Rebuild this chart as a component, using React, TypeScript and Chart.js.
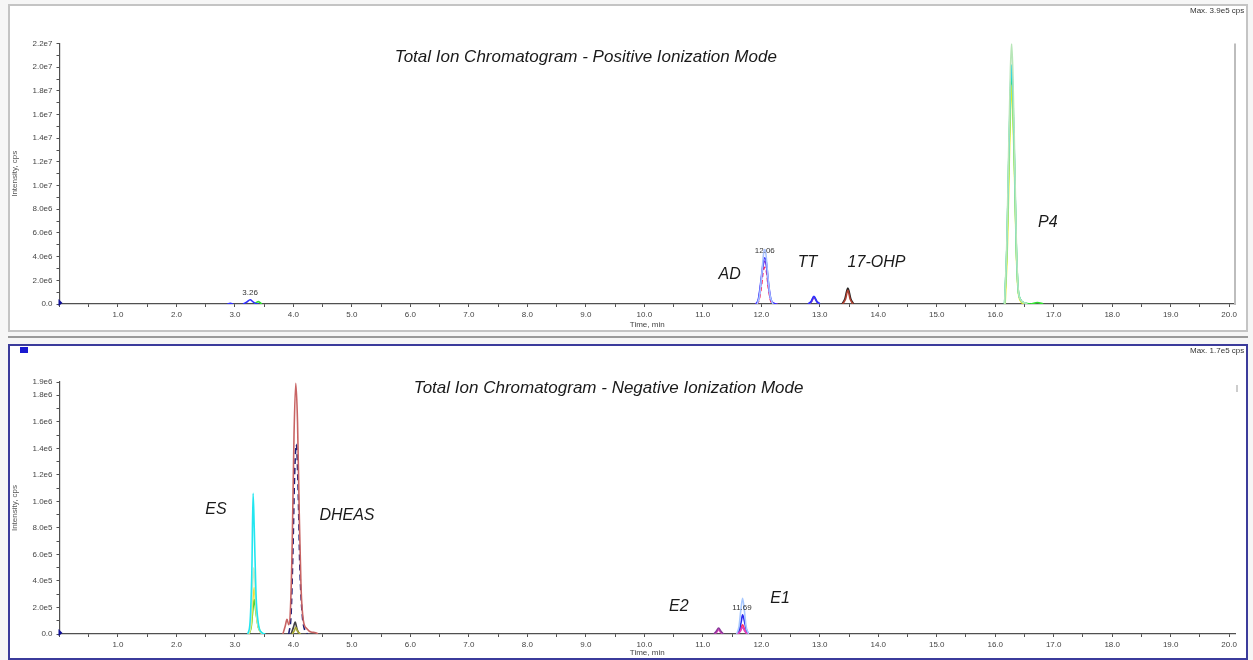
import React, { useEffect, useRef } from "react";
import { Chart, registerables } from "chart.js";
Chart.register(...registerables);

type Pt = [number, number | null];

// ---------- Positive ionization mode traces (time, min ; intensity, cps) ----------
const posBlue: Pt[] = [
  [2.87, 0], [2.92, 5e4], [2.97, 0], [3.05, null],
  [3.14, 0], [3.2, 1.6e5], [3.26, 3.6e5], [3.31, 1.8e5], [3.36, 3e4], [3.4, 0], [8, null],
  [11.91, 0], [11.95, 4e5], [11.99, 1.8e6], [12.03, 3.4e6], [12.06, 3.9e6], [12.09, 3.4e6], [12.12, 1.9e6], [12.16, 5e5], [12.2, 1e5], [12.26, 0], [12.5, null],
  [12.8, 0], [12.85, 2.2e5], [12.9, 6.5e5], [12.95, 2.2e5], [13.0, 0],
];
const posLightBlue: Pt[] = [
  [11.93, 0], [11.97, 7e5], [12.01, 2.6e6], [12.04, 4.3e6], [12.06, 4.6e6], [12.08, 4.2e6], [12.11, 2.5e6], [12.15, 7e5], [12.2, 0],
];
const posPurple: Pt[] = [
  [11.9, 0], [11.95, 3e5], [11.99, 1.6e6], [12.03, 3.2e6], [12.06, 3.6e6], [12.09, 3.1e6], [12.12, 1.7e6], [12.16, 4e5], [12.22, 5e4], [12.28, 0], [12.6, null],
  [12.81, 0], [12.86, 2e5], [12.9, 5.5e5], [12.95, 2e5], [13.0, 0],
];
const posRed: Pt[] = [
  [11.92, 0], [11.96, 3e5], [12.0, 1.4e6], [12.03, 2.7e6], [12.06, 3.1e6], [12.09, 2.7e6], [12.12, 1.4e6], [12.16, 3e5], [12.2, 0],
];
const posTeal: Pt[] = [
  [12.81, 0], [12.86, 2.2e5], [12.9, 6e5], [12.95, 2.2e5], [13.0, 0],
];
const posBlack: Pt[] = [
  [13.38, 0], [13.43, 4.5e5], [13.48, 1.35e6], [13.53, 4.5e5], [13.58, 0],
];
const posBrown: Pt[] = [
  [13.39, 0], [13.44, 4e5], [13.48, 1.15e6], [13.52, 4e5], [13.57, 0],
];
const posPaleGreen: Pt[] = [
  [16.16, 0], [16.2, 5.5e6], [16.23, 1.3e7], [16.26, 1.98e7], [16.28, 2.2e7], [16.3, 1.98e7], [16.33, 1.3e7], [16.36, 5.5e6], [16.39, 1.5e6], [16.43, 4e5], [16.5, 1e5], [16.55, 0],
];
const posCyan: Pt[] = [
  [16.16, 0], [16.2, 5.0e6], [16.23, 1.2e7], [16.26, 1.82e7], [16.28, 2.02e7], [16.3, 1.82e7], [16.33, 1.2e7], [16.36, 5.0e6], [16.39, 1.4e6], [16.43, 4e5], [16.5, 1e5], [16.55, 0],
];
const posYellow: Pt[] = [
  [16.17, 0], [16.21, 5.2e6], [16.24, 1.2e7], [16.26, 1.62e7], [16.28, 1.85e7], [16.3, 1.65e7], [16.33, 1.1e7], [16.36, 4.5e6], [16.39, 1.2e6], [16.44, 2e5], [16.5, 0],
];
const posGreen: Pt[] = [
  [3.33, 0], [3.4, 2e5], [3.46, 0], [10, null],
  [16.16, 0], [16.2, 4.9e6], [16.23, 1.17e7], [16.26, 1.76e7], [16.28, 1.95e7], [16.3, 1.76e7], [16.33, 1.17e7], [16.36, 4.9e6], [16.39, 1.4e6], [16.43, 4e5], [16.5, 1e5], [16.6, 0], [16.72, 1.3e5], [16.82, 0],
];

// ---------- Negative ionization mode traces ----------
const negCyan: Pt[] = [
  [3.22, 0], [3.26, 1e5], [3.29, 5e5], [3.31, 1.06e6], [3.33, 8e5], [3.36, 3e5], [3.4, 8e4], [3.46, 1e4], [3.52, 0],
];
const negPale: Pt[] = [
  [3.23, 0], [3.27, 8e4], [3.3, 3.5e5], [3.32, 5e5], [3.34, 4e5], [3.37, 1.5e5], [3.42, 3e4], [3.48, 0],
];
const negYellow: Pt[] = [
  [3.24, 0], [3.28, 8e4], [3.31, 2.8e5], [3.33, 3.5e5], [3.35, 2.5e5], [3.38, 1e5], [3.43, 2e4], [3.48, 0],
];
const negGreen: Pt[] = [
  [3.24, 0], [3.28, 6e4], [3.31, 2e5], [3.33, 2.6e5], [3.36, 1.6e5], [3.4, 5e4], [3.45, 1e4], [3.5, 0],
];
const negRose: Pt[] = [
  [3.82, 0], [3.86, 6e4], [3.89, 1.1e5], [3.92, 7e4], [3.95, 2e5], [3.98, 7e5], [4.01, 1.5e6], [4.04, 1.89e6], [4.07, 1.6e6], [4.1, 9e5], [4.13, 3.5e5], [4.17, 1e5], [4.23, 4e4], [4.3, 1.5e4], [4.38, 1e4], [4.42, 0],
];
const negNavy: Pt[] = [
  [3.92, 0], [3.96, 1.5e5], [3.99, 6e5], [4.02, 1.2e6], [4.05, 1.43e6], [4.08, 1.1e6], [4.11, 5e5], [4.15, 1.5e5], [4.2, 2e4], [4.24, 0],
];
const negBlack: Pt[] = [
  [3.96, 0], [4.0, 5e4], [4.03, 9e4], [4.06, 4e4], [4.1, 0],
];
const negOlive: Pt[] = [
  [3.98, 0], [4.02, 3e4], [4.04, 5e4], [4.07, 2e4], [4.12, 0],
];
const negPurple: Pt[] = [
  [11.19, 0], [11.23, 2e4], [11.27, 4.5e4], [11.31, 2e4], [11.35, 0],
];
const negMagenta: Pt[] = [
  [11.2, 0], [11.24, 1.5e4], [11.27, 3.5e4], [11.3, 1.5e4], [11.34, 0], [11.5, null],
  [11.6, 0], [11.64, 2e4], [11.68, 5e4], [11.72, 2e4], [11.76, 0],
];
const negLightBlue: Pt[] = [
  [11.58, 0], [11.62, 6e4], [11.65, 1.8e5], [11.68, 2.7e5], [11.71, 1.8e5], [11.74, 6e4], [11.78, 0],
];
const negBlue: Pt[] = [
  [11.59, 0], [11.63, 4e4], [11.66, 1e5], [11.68, 1.45e5], [11.71, 1e5], [11.74, 4e4], [11.78, 0],
];
const negRed: Pt[] = [
  [11.6, 0], [11.64, 2.5e4], [11.68, 7e4], [11.72, 2.5e4], [11.76, 0],
];

// ---------- Texts ----------
const posTitle = "Total Ion Chromatogram - Positive Ionization Mode";
const negTitle = "Total Ion Chromatogram - Negative Ionization Mode";
const posMax = "Max. 3.9e5 cps";
const negMax = "Max. 1.7e5 cps";
const posYMax = 2.2e7;
const negYMax = 1.9e6;

type Lbl = { text: string; x: number; y: number; size: number };
const posLabels: Lbl[] = [
  { text: posTitle, x: 9.0, y: 2.08e7, size: 17 },
  { text: "AD", x: 11.46, y: 2.45e6, size: 16 },
  { text: "TT", x: 12.79, y: 3.54e6, size: 16 },
  { text: "17-OHP", x: 13.97, y: 3.54e6, size: 16 },
  { text: "P4", x: 16.9, y: 6.92e6, size: 16 },
  { text: "12.06", x: 12.06, y: 4.47e6, size: 8 },
  { text: "3.26", x: 3.26, y: 9.5e5, size: 8 },
];
const negLabels: Lbl[] = [
  { text: negTitle, x: 9.39, y: 1.855e6, size: 17 },
  { text: "ES", x: 2.675, y: 9.35e5, size: 16 },
  { text: "DHEAS", x: 4.915, y: 8.9e5, size: 16 },
  { text: "E2", x: 10.59, y: 2.04e5, size: 16 },
  { text: "E1", x: 12.32, y: 2.64e5, size: 16 },
  { text: "11.69", x: 11.67, y: 1.96e5, size: 8 },
];

const FONT = "'Liberation Sans', Arial, sans-serif";

type Tr = { data: Pt[]; color: string; width?: number; dash?: number[] };

const posTraces: Tr[] = [
  { data: posLightBlue, color: "#a9c2ff" },
  { data: posBlue, color: "#2f2fff" },
  { data: posPurple, color: "#8a32d8" },
  { data: posRed, color: "#ff2050", dash: [4, 3] },
  { data: posTeal, color: "#20a088" },
  { data: posBrown, color: "#b04030" },
  { data: posBlack, color: "#222222" },
  { data: posPaleGreen, color: "#b8e6b8" },
  { data: posCyan, color: "#2ad4e8" },
  { data: posYellow, color: "#e4f020" },
  { data: posGreen, color: "#2fe02f" },
];
const negTraces: Tr[] = [
  { data: negCyan, color: "#22e6f0" },
  { data: negPale, color: "#d4e8c4" },
  { data: negYellow, color: "#f0e030" },
  { data: negGreen, color: "#2cd02c" },
  { data: negRose, color: "#c86464" },
  { data: negNavy, color: "#1e1e78", dash: [6, 4] },
  { data: negOlive, color: "#a8a830" },
  { data: negBlack, color: "#404040" },
  { data: negPurple, color: "#8a3c9a" },
  { data: negMagenta, color: "#e040c0" },
  { data: negLightBlue, color: "#a8c8ff" },
  { data: negBlue, color: "#2828f0" },
  { data: negRed, color: "#ff3060" },
];

const fmtExp = (v: number) => (Math.abs(v) < 1 ? "0.0" : v.toExponential(1).replace("+", ""));

function makePlugin(labels: Lbl[], maxText: string, rightLine: boolean) {
  return {
    id: "annot",
    afterDatasetsDraw(chart: any) {
      const { ctx, chartArea, scales } = chart;
      const xs = scales.x;
      const ys = scales.y;
      ctx.save();
      ctx.strokeStyle = "#bdbdbd";
      if (rightLine) {
        ctx.lineWidth = 2;
        ctx.beginPath();
        ctx.moveTo(chartArea.right, chartArea.top);
        ctx.lineTo(chartArea.right, chartArea.bottom + 1);
        ctx.stroke();
      } else {
        ctx.lineWidth = 1.5;
        ctx.beginPath();
        ctx.moveTo(chartArea.right + 2, chartArea.top + 3);
        ctx.lineTo(chartArea.right + 2, chartArea.top + 10);
        ctx.stroke();
      }
      ctx.textAlign = "center";
      ctx.textBaseline = "middle";
      for (const l of labels) {
        const big = l.size > 10;
        ctx.font = big ? `italic ${l.size}px ${FONT}` : `${l.size}px ${FONT}`;
        ctx.fillStyle = big ? "#1a1a1a" : "#333333";
        ctx.fillText(l.text, xs.getPixelForValue(l.x), ys.getPixelForValue(l.y));
      }
      // Max text
      ctx.font = `8px ${FONT}`;
      ctx.fillStyle = "#333333";
      ctx.textAlign = "left";
      ctx.fillText(maxText, 1180, 5);
      // origin marker
      const y0 = ys.getPixelForValue(0);
      const x0 = chartArea.left;
      ctx.fillStyle = "#10109a";
      ctx.beginPath();
      ctx.moveTo(x0 - 1, y0 - 5);
      ctx.lineTo(x0 + 3, y0 - 1);
      ctx.lineTo(x0 - 1, y0 + 2);
      ctx.closePath();
      ctx.fill();
      ctx.restore();
    },
  };
}

function makeConfig(
  traces: Tr[],
  yMax: number,
  yStep: number,
  labels: Lbl[],
  maxText: string,
  padTop: number,
  xAxisH: number,
  xTitlePad: number,
  rightLine: boolean
): any {
  return {
    type: "line",
    data: {
      datasets: traces.map((t) => ({
        data: t.data.map(([x, y]) => ({ x, y })),
        borderColor: t.color,
        borderWidth: t.width ?? 1.6,
        borderDash: t.dash ?? [],
        pointRadius: 0,
        fill: false,
        cubicInterpolationMode: "monotone",
        spanGaps: false,
      })),
    },
    options: {
      responsive: false,
      animation: false,
      events: [],
      layout: { padding: { top: padTop, right: 11, left: 0, bottom: 0 } },
      plugins: { legend: { display: false }, tooltip: { enabled: false }, title: { display: false } },
      scales: {
        x: {
          type: "linear",
          min: 0,
          max: 20.1,
          border: { color: "#505050", width: 1.2 },
          grid: { display: true, drawOnChartArea: false, drawTicks: true, tickLength: 3, color: "#505050" },
          ticks: {
            stepSize: 0.5,
            includeBounds: false,
            autoSkip: false,
            maxRotation: 0,
            minRotation: 0,
            padding: 3,
            color: "#444444",
            font: { size: 8, family: FONT },
            callback: (v: number) => {
              const r = Math.round(v * 2);
              return v > 0.01 && r % 2 === 0 ? (r / 2).toFixed(1) : "";
            },
          },
          title: {
            display: true,
            text: "Time, min",
            color: "#444444",
            font: { size: 8, family: FONT },
            padding: { top: xTitlePad, bottom: 0 },
          },
          afterFit: (s: any) => {
            s.height = xAxisH;
          },
        },
        y: {
          type: "linear",
          min: 0,
          max: yMax,
          border: { color: "#505050", width: 1.2 },
          grid: { display: true, drawOnChartArea: false, drawTicks: true, tickLength: 3, color: "#505050" },
          ticks: {
            stepSize: yStep,
            includeBounds: false,
            autoSkip: false,
            padding: 4,
            color: "#444444",
            font: { size: 8, family: FONT },
            callback: (v: number) => {
              const r = Math.round(v / yStep);
              if (r % 2 === 0 || Math.abs(v - yMax) < yStep / 10) return fmtExp(v);
              return "";
            },
          },
          title: {
            display: true,
            text: "Intensity, cps",
            color: "#555555",
            font: { size: 8, family: FONT },
            padding: { top: 0, bottom: 0 },
          },
          afterFit: (s: any) => {
            s.width = 49.5;
          },
        },
      },
    },
    plugins: [makePlugin(labels, maxText, rightLine)],
  };
}

export default function App() {
  const topRef = useRef<HTMLCanvasElement | null>(null);
  const botRef = useRef<HTMLCanvasElement | null>(null);

  useEffect(() => {
    const c1 = new Chart(
      topRef.current as HTMLCanvasElement,
      makeConfig(posTraces, posYMax, 1e6, posLabels, posMax, 37.5, 26, 1, true)
    );
    const c2 = new Chart(
      botRef.current as HTMLCanvasElement,
      makeConfig(negTraces, negYMax, 1e5, negLabels, negMax, 36, 24, 0, false)
    );
    return () => {
      c1.destroy();
      c2.destroy();
    };
  }, []);

  return (
    <div style={{ position: "absolute", left: 0, top: 0, width: 1253, height: 660, background: "#f6f6f6", overflow: "hidden" }}>
      <div
        style={{
          position: "absolute",
          left: 8,
          top: 4,
          width: 1240,
          height: 328,
          boxSizing: "border-box",
          border: "2px solid #c4c4c4",
          background: "#ffffff",
        }}
      />
      <div style={{ position: "absolute", left: 8, top: 336, width: 1240, height: 2, background: "#9a9a9a" }} />
      <div
        style={{
          position: "absolute",
          left: 8,
          top: 344,
          width: 1240,
          height: 316,
          boxSizing: "border-box",
          border: "2px solid #3b3b9b",
          background: "#ffffff",
        }}
      />
      <div style={{ position: "absolute", left: 20, top: 347, width: 8, height: 6, background: "#1a1ad0" }} />
      <canvas
        ref={topRef}
        width={1236}
        height={324}
        style={{ position: "absolute", left: 10, top: 6, width: 1236, height: 324 }}
      />
      <canvas
        ref={botRef}
        width={1236}
        height={312}
        style={{ position: "absolute", left: 10, top: 346, width: 1236, height: 312 }}
      />
    </div>
  );
}
